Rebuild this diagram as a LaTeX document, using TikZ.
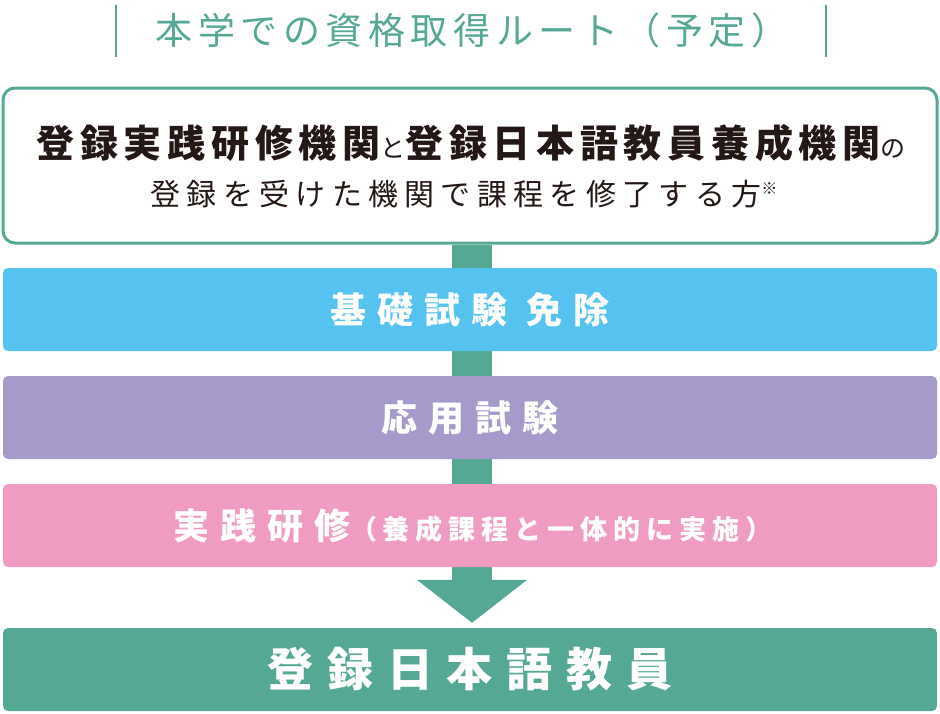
\documentclass[tikz,border=0pt]{standalone}
\usepackage{fontspec}
\usetikzlibrary{arrows.meta,backgrounds}
\newfontfamily\jp{Noto Sans CJK JP}
\newcommand\trk[1]{\addfontfeatures{LetterSpace=#1}}
\definecolor{rgreen}{HTML}{55A894}
\definecolor{rblue}{HTML}{55C2EF}
\definecolor{rpurple}{HTML}{A59ACA}
\definecolor{rpink}{HTML}{F09BC1}
\definecolor{rtext}{HTML}{231815}
\begin{document}
\begin{tikzpicture}[x=1pt,y=-1pt,
  stage/.style={minimum width=934pt, minimum height=83pt, rounded corners=5pt, inner sep=0pt, text=white, font=\jp\bfseries},
  plain/.style={inner sep=0pt, anchor=center}]
\useasboundingbox (0,0) rectangle (940,713);
% title
\node[plain, text=rgreen, font=\jp] (title) at (472,30) {\fontsize{37}{37}\selectfont\trk{15}本学での資格取得ルート（予定）};
\draw[rgreen, line width=2pt] (116,5) -- (116,57);
\draw[rgreen, line width=2pt] (826,5) -- (826,57);
% top box
\node[draw=rgreen, line width=3pt, fill=white, rounded corners=12pt, minimum width=934pt, minimum height=155pt] (top) at (470,165.5) {};
\node[plain, text=rtext, font=\jp] (top1) at (471,143) {\fontsize{38}{38}\selectfont\bfseries\trk{15}登録実践研修機関{\fontsize{25}{25}\selectfont\mdseries と}登録日本語教員養成機関{\fontsize{25}{25}\selectfont\mdseries の}};
\node[plain, text=rtext, font=\jp] (top2) at (464,194) {\fontsize{30}{30}\selectfont\trk{21}登録を受けた機関で課程を修了する方\raisebox{11pt}{\fontsize{16}{16}\selectfont ※}};
% stages
\node[stage, fill=rblue] (kiso) at (470,309.5) {\fontsize{36}{36}\selectfont\trk{30}基礎試験 免除};
\node[stage, fill=rpurple] (ouyo) at (470,417.5) {\fontsize{36}{36}\selectfont\trk{30}応用試験};
\node[stage, fill=rpink] (jissen) at (470,525.5) {\hspace*{6pt}\fontsize{36}{36}\selectfont\trk{30}実践研修{\fontsize{27}{27}\selectfont\trk{22}（養成課程と一体的に実施）}};
\node[stage, fill=rgreen] (goal) at (470,669.5) {\fontsize{46}{46}\selectfont\trk{30}登録日本語教員};
% connector
\begin{scope}[on background layer]
\draw[rgreen, line width=40pt, -{Triangle[width=108pt,length=43pt]}] ([xshift=2pt]top.south) -- ([xshift=2pt,yshift=5pt]goal.north);
\end{scope}
\end{tikzpicture}
\end{document}
